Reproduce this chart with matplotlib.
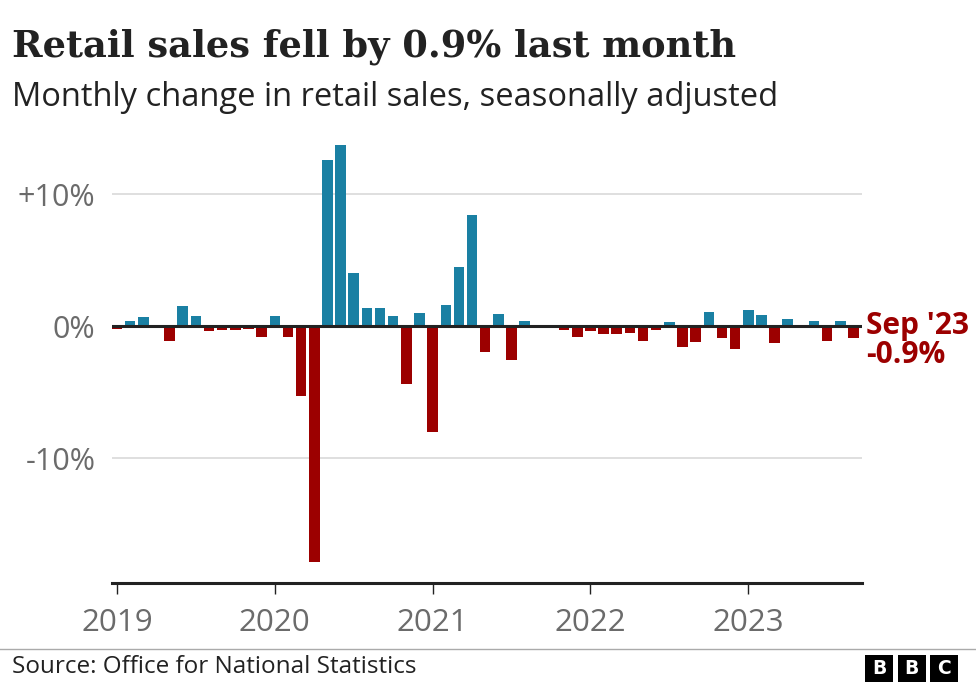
import matplotlib
matplotlib.use("Agg")
import matplotlib.pyplot as plt
import pandas as pd
from matplotlib.patches import Rectangle

# ---------------- data ----------------
months = pd.period_range("2019-01", "2023-09", freq="M").astype(str).tolist()
values = [
    -0.2, 0.4, 0.7, 0.0, -1.1, 1.5, 0.8, -0.4, -0.3, -0.3, -0.2, -0.85,   # 2019
    0.8, -0.8, -5.3, -17.9, 12.6, 13.7, 4.0, 1.4, 1.4, 0.8, -4.4, 1.0,     # 2020
    -8.0, 1.6, 4.5, 8.4, -2.0, 0.9, -2.6, 0.4, 0.0, 0.0, -0.3, -0.8,       # 2021
    -0.4, -0.6, -0.6, -0.5, -1.1, -0.3, 0.3, -1.6, -1.2, 1.05, -0.9, -1.7, # 2022
    1.25, 0.85, -1.3, 0.55, 0.0, 0.4, -1.1, 0.4, -0.9,                     # 2023
]
year_labels = ["2019", "2020", "2021", "2022", "2023"]
year_ticks = ["2019-01", "2020-01", "2021-01", "2022-01", "2023-01"]
y_ticks = [-10, 0, 10]
y_tick_labels = ["-10%", "0%", "+10%"]
title = "Retail sales fell by 0.9% last month"
subtitle = "Monthly change in retail sales, seasonally adjusted"
source = "Source: Office for National Statistics"
last_label = "Sep '23"
last_value = "-0.9%"

BLUE = "#1a80a3"
RED = "#9c0000"
DARK = "#222222"
GREY = "#6b6b6b"
SANS = ["Open Sans", "DejaVu Sans"]

W, H = 976, 686
fig = plt.figure(figsize=(W / 100, H / 100), dpi=100)
fig.patch.set_facecolor("white")

def px_x(x):
    return x / W

def px_y(y):
    return 1 - y / H

ax_left, ax_right, ax_top, ax_bottom = 112, 862, 140, 583
ax = fig.add_axes([px_x(ax_left), px_y(ax_bottom), (ax_right - ax_left) / W, (ax_bottom - ax_top) / H])

x = list(range(len(months)))
colors = [BLUE if v > 0 else RED for v in values]
ax.bar(x, values, width=0.8, color=colors, zorder=2, linewidth=0)
ax.axhline(0, color=DARK, lw=2.2, zorder=3)

ax.set_xlim(-0.38, 56.65)
ax.set_ylim(-19.47, 14.1)

for gy in [-10, 10]:
    ax.axhline(gy, color="#d9d9d9", lw=1.2, zorder=1)

ax.set_yticks(y_ticks)
ax.set_yticklabels(y_tick_labels)
ax.tick_params(axis="y", length=0, pad=12, labelsize=22, labelcolor=GREY)

xt = [months.index(m) for m in year_ticks]
ax.set_xticks(xt)
ax.set_xticklabels(year_labels)
ax.tick_params(axis="x", length=8, width=1.0, color=DARK, pad=10, labelsize=22.5, labelcolor=GREY)

for s in ["top", "right", "left"]:
    ax.spines[s].set_visible(False)
ax.spines["bottom"].set_color(DARK)
ax.spines["bottom"].set_linewidth(2.2)

for lbl in ax.get_xticklabels() + ax.get_yticklabels():
    lbl.set_family(SANS)

# annotation for last value
ax.annotate(last_label, xy=(x[-1], 0), xytext=(9, 0), textcoords="offset points",
            ha="left", va="center", fontsize=21.5, fontweight="bold", color=RED, family=SANS)
ax.annotate(last_value, xy=(x[-1], 0), xytext=(9, -20.5), textcoords="offset points",
            ha="left", va="center", fontsize=21.5, fontweight="bold", color=RED, family=SANS)

# titles
fig.text(px_x(12), px_y(47), title, ha="left", va="center", fontsize=26.5, fontweight="bold",
         color=DARK, family=["DejaVu Serif"])
fig.text(px_x(12), px_y(98), subtitle, ha="left", va="center", fontsize=23.5, color=DARK,
         family=SANS)

# footer
fig.add_artist(plt.Line2D([0, 1], [px_y(649), px_y(649)], color="#aaaaaa", lw=1.0))
fig.text(px_x(12), px_y(667), source, ha="left", va="center", fontsize=17.5, color=DARK,
         family=SANS)

for i, letter in enumerate("BBC"):
    x0 = 865 + i * 32.5
    fig.add_artist(Rectangle((px_x(x0), px_y(682)), 28 / W, 27 / H, transform=fig.transFigure,
                             facecolor="black", edgecolor="none"))
    fig.text(px_x(x0 + 14), px_y(668), letter, ha="center", va="center", fontsize=13.5,
             fontweight="bold", color="white", family=["DejaVu Sans"])

fig.savefig("out.png", dpi=100)
